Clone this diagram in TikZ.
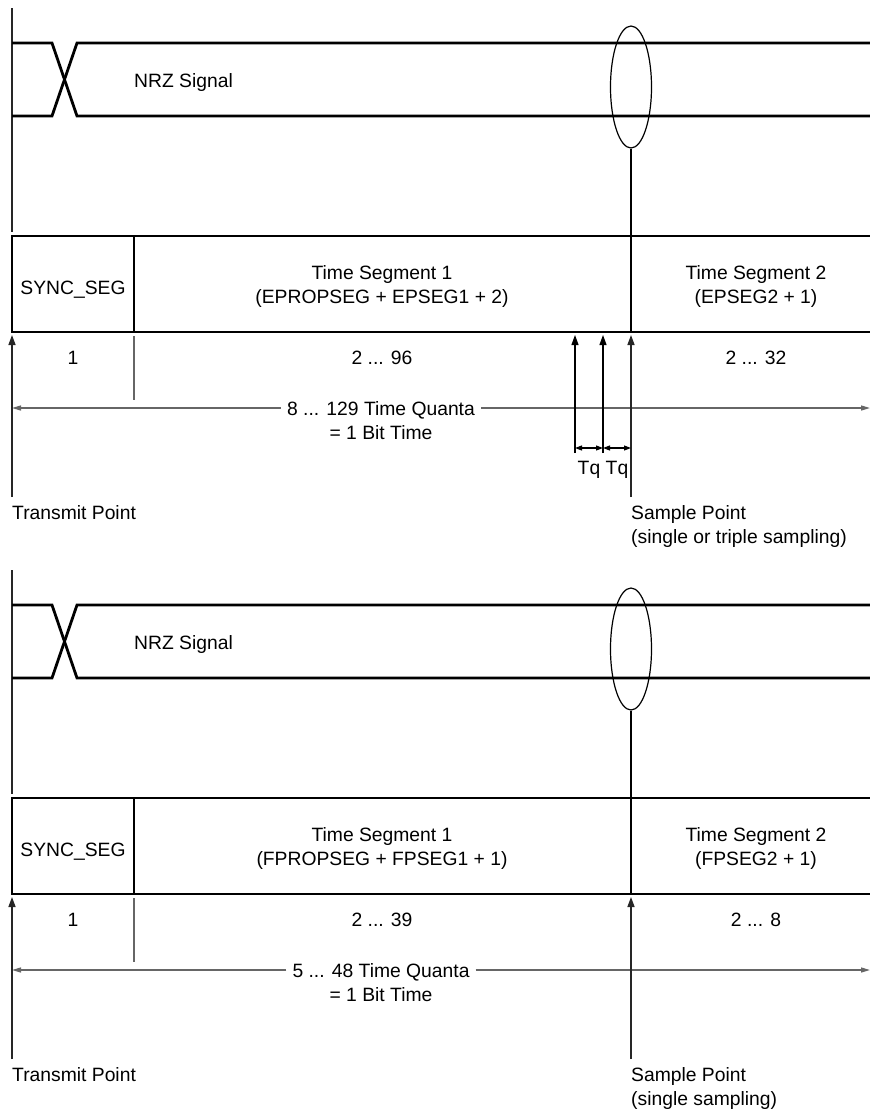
\documentclass[tikz,border=0pt]{standalone}
\usepackage{fontspec}
\setmainfont{Liberation Sans}
\usetikzlibrary{arrows.meta,shapes.geometric}
\begin{document}
\begin{tikzpicture}[x=1pt,y=-1pt,
  lbl/.style={font=\fontsize{19.3}{24}\selectfont, inner sep=0pt},
  boldline/.style={line width=2.8pt, line join=miter, black},
  thinline/.style={line width=1.1pt, black},
  dimline/.style={line width=1.4pt, black!60},
  guide/.style={line width=1.2pt, black!60},
  axisline/.style={line width=1.4pt, black!85},
  uparrow/.style={-{Triangle[length=10pt,width=7pt]}},
  leftend/.style={-{Triangle[length=9pt,width=5pt]}},
  dblarrow/.style={{Triangle[length=7pt,width=5pt]}-{Triangle[length=7pt,width=5pt]}},
  sampleoval/.style={ellipse, draw, line width=1.2pt, minimum width=41pt, minimum height=122pt, inner sep=0pt}
]
\useasboundingbox (0,0) rectangle (870,1109);

% ================= upper diagram =================
\begin{scope}
  % left vertical axis
  \coordinate (axTa) at (12,8);
  \coordinate (axBa) at (12,232);
  \draw[axisline] (axTa) -- (axBa);
  % NRZ signal
  \coordinate (nA1) at (12,43);  \coordinate (nA2) at (52,43);
  \coordinate (nA3) at (77,116); \coordinate (nA4) at (870,116);
  \coordinate (nB1) at (12,116); \coordinate (nB2) at (52,116);
  \coordinate (nB3) at (77,43);  \coordinate (nB4) at (870,43);
  \draw[boldline] (nA1) -- (nA2) -- (nA3) -- (nA4);
  \draw[boldline] (nB1) -- (nB2) -- (nB3) -- (nB4);
  \node[lbl, anchor=base west] (nrza) at (134,87) {NRZ Signal};
  % sample oval
  \node[sampleoval] (ovala) at (631,87) {};
  \coordinate (sTopa) at (631,236);
  \draw[thinline] (ovala.south) -- (sTopa);
  % segment box
  \coordinate (bTRa) at (870,236); \coordinate (bTLa) at (12,236);
  \coordinate (bBLa) at (12,332);  \coordinate (bBRa) at (870,332);
  \draw[boldline] (bTRa) -- (bTLa) -- (bBLa) -- (bBRa);
  \coordinate (d1Ta) at (134,236); \coordinate (d1Ba) at (134,332);
  \coordinate (d2Ba) at (631,332);
  \draw[boldline] (d1Ta) -- (d1Ba);
  \draw[boldline] (sTopa) -- (d2Ba);
  \node[lbl, anchor=base] (synca) at (73,294) {SYNC\_SEG};
  \node[lbl, anchor=base] (ts1a) at (382,279) {Time Segment 1};
  \node[lbl, anchor=base] (ts1ba) at (382,303) {(EPROPSEG + EPSEG1 + 2)};
  \node[lbl, anchor=base] (ts2a) at (756,279) {Time Segment 2};
  \node[lbl, anchor=base] (ts2ba) at (756,303) {(EPSEG2 + 1)};
  % counts
  \node[lbl, anchor=base] (c1a) at (73,364) {1};
  \node[lbl, anchor=base] (c2a) at (382,364) {2 ... 96};
  \node[lbl, anchor=base] (c3a) at (756,364) {2 ... 32};
  \coordinate (g1Ta) at (134,336); \coordinate (g1Ba) at (134,400);
  \draw[guide] (g1Ta) -- (g1Ba);
  % bit time dimension
  \node[lbl, anchor=base, inner xsep=6pt] (tqa) at (381,415) {8 ... 129 Time Quanta};
  \node[lbl, anchor=base] (bta) at (381,439) {= 1 Bit Time};
  \coordinate (dLa) at (12,408); \coordinate (dRa) at (870,408);
  \draw[dimline, leftend] (tqa.west |- dLa) -- (dLa);
  \draw[dimline, leftend] (tqa.east |- dRa) -- (dRa);
  % transmit point
  \coordinate (tBa) at (12,497); \coordinate (tTa) at (12,335);
  \draw[axisline, uparrow] (tBa) -- (tTa);
  \node[lbl, anchor=base west] (tpa) at (12,519) {Transmit Point};
  % Tq arrows
  \coordinate (q1B) at (575,453); \coordinate (q1T) at (575,335);
  \coordinate (q2B) at (603,453); \coordinate (q2T) at (603,335);
  \draw[thinline, uparrow] (q1B) -- (q1T);
  \draw[thinline, uparrow] (q2B) -- (q2T);
  \coordinate (sBa) at (631,497); \coordinate (sTa) at (631,335);
  \draw[axisline, uparrow] (sBa) -- (sTa);
  \coordinate (h1) at (575,448); \coordinate (h2) at (603,448); \coordinate (h3) at (631,448);
  \draw[thinline, dblarrow] (h1) -- (h2);
  \draw[thinline, dblarrow] (h2) -- (h3);
  \node[lbl, anchor=base] (tqla) at (589,474) {Tq};
  \node[lbl, anchor=base] (tqlb) at (617,474) {Tq};
  \node[lbl, anchor=base west] (spa) at (631,519) {Sample Point};
  \node[lbl, anchor=base west] (spba) at (631,543) {(single or triple sampling)};
\end{scope}

% ================= lower diagram =================
\begin{scope}[shift={(0,562)}]
  \coordinate (axTb) at (12,8);
  \coordinate (axBb) at (12,232);
  \draw[axisline] (axTb) -- (axBb);
  \coordinate (mA1) at (12,43);  \coordinate (mA2) at (52,43);
  \coordinate (mA3) at (77,116); \coordinate (mA4) at (870,116);
  \coordinate (mB1) at (12,116); \coordinate (mB2) at (52,116);
  \coordinate (mB3) at (77,43);  \coordinate (mB4) at (870,43);
  \draw[boldline] (mA1) -- (mA2) -- (mA3) -- (mA4);
  \draw[boldline] (mB1) -- (mB2) -- (mB3) -- (mB4);
  \node[lbl, anchor=base west] (nrzb) at (134,87) {NRZ Signal};
  \node[sampleoval] (ovalb) at (631,87) {};
  \coordinate (sTopb) at (631,236);
  \draw[thinline] (ovalb.south) -- (sTopb);
  \coordinate (bTRb) at (870,236); \coordinate (bTLb) at (12,236);
  \coordinate (bBLb) at (12,332);  \coordinate (bBRb) at (870,332);
  \draw[boldline] (bTRb) -- (bTLb) -- (bBLb) -- (bBRb);
  \coordinate (d1Tb) at (134,236); \coordinate (d1Bb) at (134,332);
  \coordinate (d2Bb) at (631,332);
  \draw[boldline] (d1Tb) -- (d1Bb);
  \draw[boldline] (sTopb) -- (d2Bb);
  \node[lbl, anchor=base] (syncb) at (73,294) {SYNC\_SEG};
  \node[lbl, anchor=base] (ts1b) at (382,279) {Time Segment 1};
  \node[lbl, anchor=base] (ts1bb) at (382,303) {(FPROPSEG + FPSEG1 + 1)};
  \node[lbl, anchor=base] (ts2b) at (756,279) {Time Segment 2};
  \node[lbl, anchor=base] (ts2bb) at (756,303) {(FPSEG2 + 1)};
  \node[lbl, anchor=base] (c1b) at (73,364) {1};
  \node[lbl, anchor=base] (c2b) at (382,364) {2 ... 39};
  \node[lbl, anchor=base] (c3b) at (756,364) {2 ... 8};
  \coordinate (g1Tb) at (134,336); \coordinate (g1Bb) at (134,400);
  \draw[guide] (g1Tb) -- (g1Bb);
  \node[lbl, anchor=base, inner xsep=6pt] (tqb) at (381,415) {5 ... 48 Time Quanta};
  \node[lbl, anchor=base] (btb) at (381,439) {= 1 Bit Time};
  \coordinate (dLb) at (12,408); \coordinate (dRb) at (870,408);
  \draw[dimline, leftend] (tqb.west |- dLb) -- (dLb);
  \draw[dimline, leftend] (tqb.east |- dRb) -- (dRb);
  \coordinate (tBb) at (12,497); \coordinate (tTb) at (12,335);
  \draw[axisline, uparrow] (tBb) -- (tTb);
  \node[lbl, anchor=base west] (tpb) at (12,519) {Transmit Point};
  \coordinate (sBb) at (631,497); \coordinate (sTb) at (631,335);
  \draw[axisline, uparrow] (sBb) -- (sTb);
  \node[lbl, anchor=base west] (spb) at (631,519) {Sample Point};
  \node[lbl, anchor=base west] (spbb) at (631,543) {(single sampling)};
\end{scope}
\end{tikzpicture}
\end{document}
